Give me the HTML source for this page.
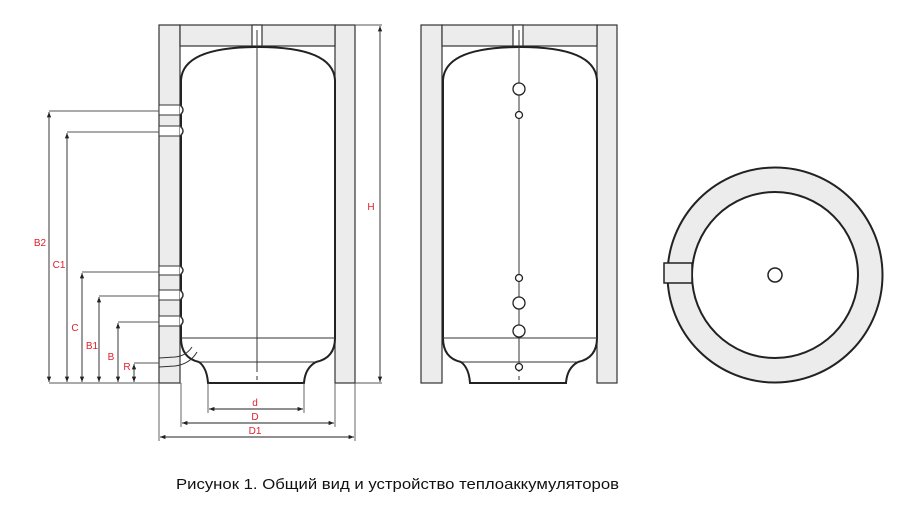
<!DOCTYPE html>
<html><head><meta charset="utf-8"><style>html,body{margin:0;padding:0;background:#fff}svg{display:block}</style></head>
<body>
<svg width="914" height="516" viewBox="0 0 914 516" xmlns="http://www.w3.org/2000/svg" font-family="Liberation Sans, sans-serif">
<defs>
<marker id="a" viewBox="0 0 10 10" refX="10" refY="5" markerWidth="6" markerHeight="6" orient="auto-start-reverse"><path d="M0,1 L10,5 L0,9 z" fill="#222"/></marker>
</defs>
<g stroke="#333" stroke-width="1.2" fill="#ebeceb">
<rect x="159" y="25" width="21" height="358"/>
<rect x="335" y="25" width="20" height="358"/>
<rect x="180" y="25" width="155" height="21"/>
<rect x="252" y="25" width="10" height="21" fill="#fff"/>
<rect x="421" y="25" width="21" height="358"/>
<rect x="597" y="25" width="20" height="358"/>
<rect x="442" y="25" width="155" height="21"/>
<rect x="513" y="25" width="10" height="21" fill="#fff"/>
</g>
<g stroke="#222" stroke-width="2" fill="#fff">
<path d="M181,338 L181,80 Q183,47 258,47 Q333,47 335,80 L335,338 Q335,358 316,362 Q305,368 304,383 L208,383 Q207,368 199,362 Q181,358 181,338 Z"/>
<path d="M443,338 L443,80 Q445,47 520,47 Q595,47 597,80 L597,338 Q597,358 578,362 Q567,368 566,383 L470,383 Q469,368 461,362 Q443,358 443,338 Z"/>
</g>
<g stroke="#333" stroke-width="1" fill="none">
<line x1="181" y1="338" x2="335" y2="338"/>
<line x1="199" y1="362" x2="316" y2="362"/>
<line x1="443" y1="338" x2="597" y2="338"/>
<line x1="461" y1="362" x2="578" y2="362"/>
<line x1="257" y1="30" x2="257" y2="372"/>
<line x1="519" y1="30" x2="519" y2="372"/>
<line x1="257" y1="376" x2="257" y2="380"/>
<line x1="519" y1="376" x2="519" y2="380"/>
</g>
<g stroke="#333" stroke-width="1" fill="#fff">
<rect x="159" y="105" width="21" height="10"/><path d="M180,105 Q186,110 180,115" stroke-width="1.5"/>
<rect x="159" y="126" width="21" height="10"/><path d="M180,126 Q186,131 180,136" stroke-width="1.5"/>
<rect x="159" y="266" width="21" height="9"/><path d="M180,266 Q186,270 180,275" stroke-width="1.5"/>
<rect x="159" y="290" width="21" height="10"/><path d="M180,290 Q186,295 180,300" stroke-width="1.5"/>
<rect x="159" y="316" width="21" height="10"/><path d="M180,316 Q186,321 180,326" stroke-width="1.5"/>
<path d="M159,358 L175,357 Q186,356 192,347 M159,367 L175,366 Q190,364 197,352" fill="none"/>
</g>
<g stroke="#222" stroke-width="1.3" fill="#fff">
<circle cx="519" cy="89" r="6"/><circle cx="519" cy="115" r="3.5"/>
<circle cx="519" cy="278" r="3.5"/><circle cx="519" cy="303" r="6"/>
<circle cx="519" cy="331" r="6"/><circle cx="519" cy="367" r="3.5"/>
</g>
<circle cx="775" cy="275" r="107.5" fill="#ebeceb" stroke="#222" stroke-width="2"/>
<circle cx="775" cy="275" r="83" fill="#fff" stroke="#222" stroke-width="2"/>
<rect x="664" y="263" width="28" height="20" fill="#ebeceb" stroke="#222" stroke-width="1.5"/>
<circle cx="775" cy="275" r="7" fill="#fff" stroke="#222" stroke-width="1.5"/>
<g stroke="#555" stroke-width="0.9" fill="none">
<line x1="49" y1="111" x2="159" y2="111"/>
<line x1="67" y1="132" x2="159" y2="132"/>
<line x1="82" y1="272" x2="159" y2="272"/>
<line x1="99" y1="296" x2="159" y2="296"/>
<line x1="118" y1="322" x2="159" y2="322"/>
<line x1="134" y1="363" x2="159" y2="363"/>
<line x1="49" y1="383" x2="159" y2="383"/>
<line x1="355" y1="383" x2="382" y2="383"/>
<line x1="355" y1="25" x2="382" y2="25"/>
<line x1="159" y1="383" x2="159" y2="441"/>
<line x1="181" y1="383" x2="181" y2="427"/>
<line x1="208" y1="383" x2="208" y2="413"/>
<line x1="304" y1="383" x2="304" y2="413"/>
<line x1="335" y1="383" x2="335" y2="427"/>
<line x1="355" y1="383" x2="355" y2="441"/>
</g>
<g stroke="#222" stroke-width="0.9" marker-start="url(#a)" marker-end="url(#a)">
<line x1="49" y1="112" x2="49" y2="382"/>
<line x1="67" y1="133" x2="67" y2="382"/>
<line x1="82" y1="273" x2="82" y2="382"/>
<line x1="99" y1="297" x2="99" y2="382"/>
<line x1="118" y1="323" x2="118" y2="382"/>
<line x1="134" y1="364" x2="134" y2="382"/>
<line x1="380" y1="26" x2="380" y2="382"/>
<line x1="209" y1="409" x2="303" y2="409"/>
<line x1="182" y1="423" x2="334" y2="423"/>
<line x1="160" y1="437" x2="354" y2="437"/>
</g>
<g fill="#e0202a" font-size="10" text-anchor="middle">
<text x="40" y="246">B2</text>
<text x="59" y="268">C1</text>
<text x="75" y="331">C</text>
<text x="92" y="349">B1</text>
<text x="111" y="360">B</text>
<text x="127" y="370">R</text>
<text x="371" y="210">H</text>
<text x="255" y="406">d</text>
<text x="255" y="420">D</text>
<text x="255" y="434">D1</text>
</g>
<text x="176" y="489" font-size="15" fill="#111" textLength="443" lengthAdjust="spacingAndGlyphs">Рисунок 1. Общий вид и устройство теплоаккумуляторов</text>
</svg>
</body></html>
